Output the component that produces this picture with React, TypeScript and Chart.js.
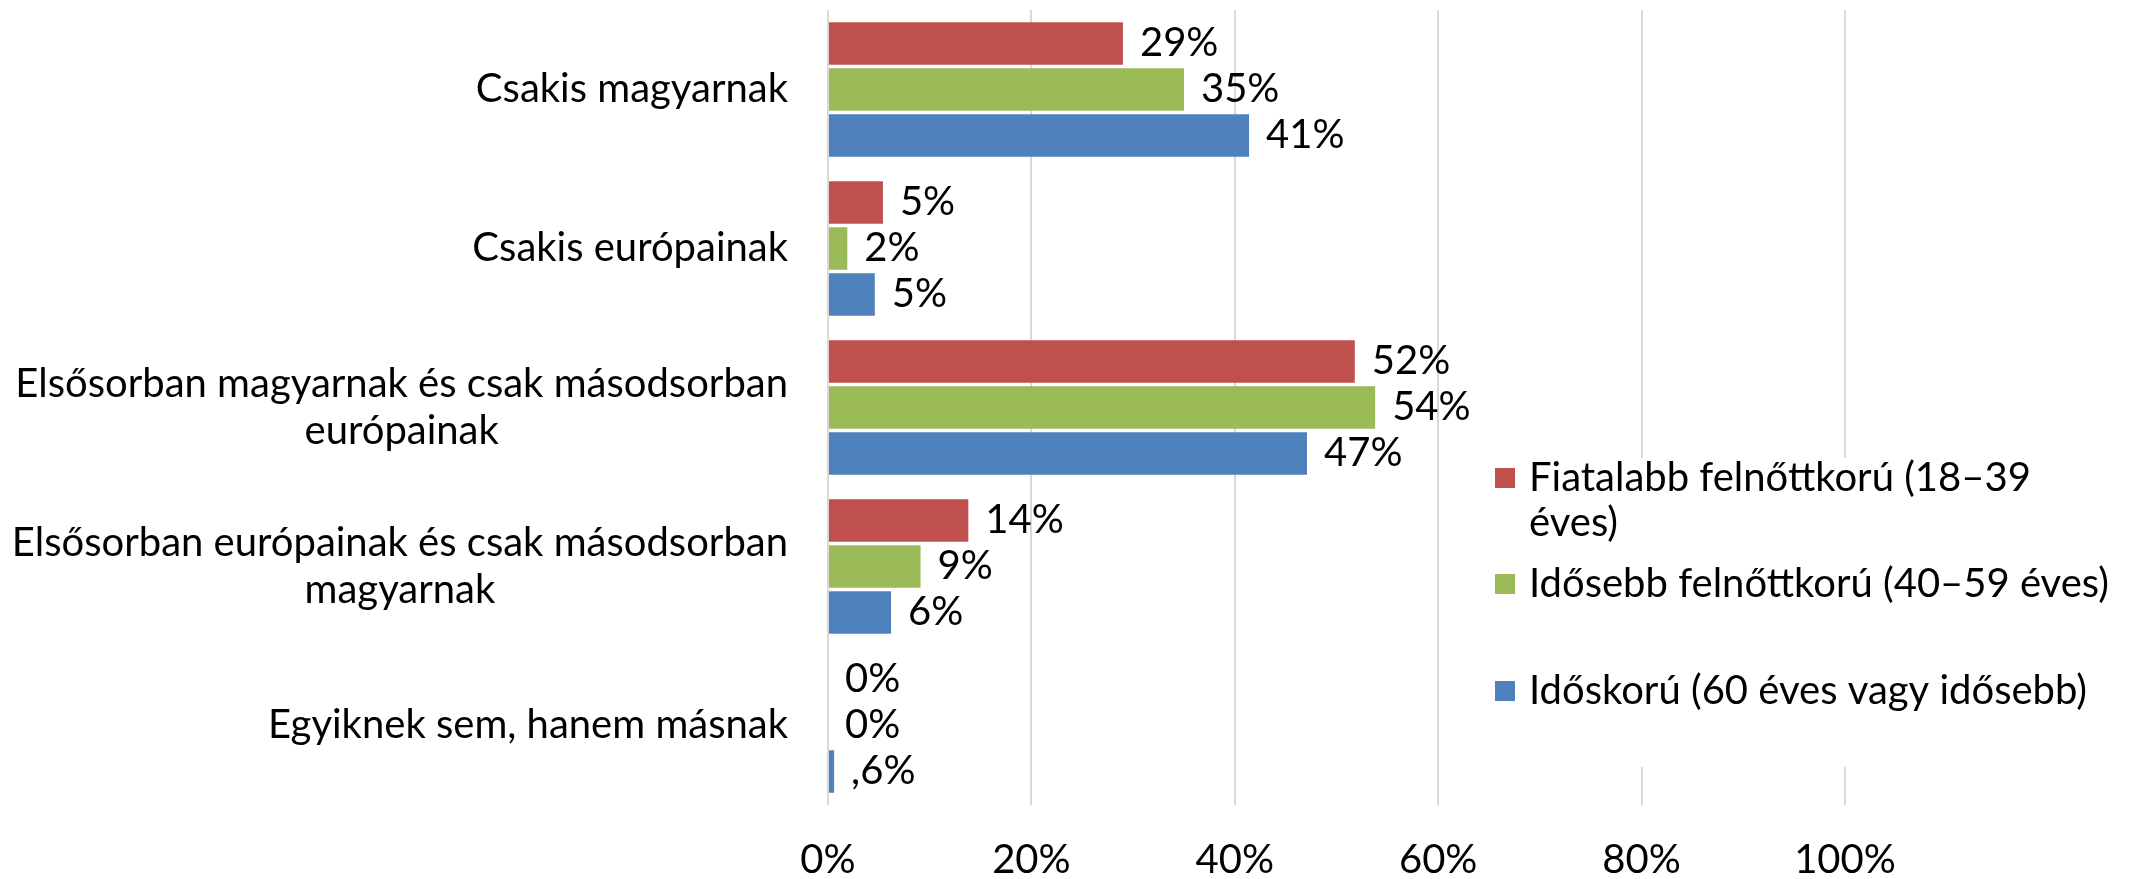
import React, { useEffect, useRef } from 'react';
import { Chart, registerables } from 'chart.js';

Chart.register(...registerables);

// ---- data ----
const categories: (string | string[])[] = [
  'Csakis magyarnak',
  'Csakis európainak',
  ['Elsősorban magyarnak és csak másodsorban', 'európainak'],
  ['Elsősorban európainak és csak másodsorban', 'magyarnak'],
  'Egyiknek sem, hanem másnak',
];
const seriesNames = [
  'Fiatalabb felnőttkorú (18–39 éves)',
  'Idősebb felnőttkorú (40–59 éves)',
  'Időskorú (60 éves vagy idősebb)',
];
const youngerAdults = [29, 5.4, 51.8, 13.8, 0];
const olderAdults = [35, 1.9, 53.8, 9.1, 0];
const elderly = [41.4, 4.6, 47.1, 6.2, 0.6];
const xTickValues = [0, 20, 40, 60, 80, 100];
const seriesColors = ['#C0504D', '#9BBB59', '#4F81BD'];

// ---- style ----
const FONT = 'Lato, "Open Sans", sans-serif';
const FS = 40;
const W = 2129;
const H = 879;

const fmt = (v: number) => (v > 0 && v < 1 ? ',' + Math.round(v * 10) + '%' : Math.round(v) + '%');

const yLabelPlugin = {
  id: 'yLabels',
  afterDraw(chart: any) {
    const { ctx } = chart;
    const ys = chart.scales.y;
    const right = 788;
    const lh = 47.5;
    ctx.save();
    ctx.font = `${FS}px ${FONT}`;
    ctx.fillStyle = '#000';
    ctx.textBaseline = 'middle';
    ctx.textAlign = 'center';
    (chart.data.labels as any[]).forEach((lab, i) => {
      const lines: string[] = Array.isArray(lab) ? lab : [lab];
      const w = Math.max(...lines.map((l) => ctx.measureText(l).width));
      const cx = right - w / 2;
      const cy = ys.getPixelForValue(i);
      lines.forEach((l, j) => ctx.fillText(l, cx, cy + (j - (lines.length - 1) / 2) * lh));
    });
    ctx.restore();
  },
};

const dataLabelPlugin = {
  id: 'dataLabels',
  afterDatasetsDraw(chart: any) {
    const { ctx } = chart;
    ctx.save();
    ctx.font = `${FS}px ${FONT}`;
    ctx.fillStyle = '#000';
    ctx.textBaseline = 'middle';
    ctx.textAlign = 'left';
    chart.data.datasets.forEach((ds: any, di: number) => {
      const meta = chart.getDatasetMeta(di);
      meta.data.forEach((bar: any, i: number) => {
        ctx.fillText(fmt(ds.data[i]), bar.x + 17, bar.y);
      });
    });
    ctx.restore();
  },
};

const legendPlugin = {
  id: 'customLegend',
  afterDraw(chart: any) {
    const { ctx } = chart;
    const boxX = 1480;
    const boxY = 458;
    const sqX = 1495;
    const sq = 20;
    const textX = 1529;
    const maxW = 590;
    const lh = 45;
    const itemY = [478, 584, 691];
    ctx.save();
    ctx.fillStyle = '#fff';
    ctx.fillRect(boxX, boxY, W - boxX, 767 - boxY);
    ctx.font = `${FS}px ${FONT}`;
    ctx.textBaseline = 'middle';
    ctx.textAlign = 'left';
    chart.data.datasets.forEach((ds: any, di: number) => {
      const y0 = itemY[di];
      ctx.fillStyle = ds.backgroundColor;
      ctx.fillRect(sqX, y0 - sq / 2, sq, sq);
      // wrap
      const words = String(ds.label).split(' ');
      const lines: string[] = [];
      let cur = '';
      words.forEach((w) => {
        const t = cur ? cur + ' ' + w : w;
        if (cur && ctx.measureText(t).width > maxW) {
          lines.push(cur);
          cur = w;
        } else cur = t;
      });
      if (cur) lines.push(cur);
      ctx.fillStyle = '#000';
      lines.forEach((l, j) => ctx.fillText(l, textX, y0 + j * lh));
    });
    ctx.restore();
  },
};

export default function App() {
  const ref = useRef<HTMLCanvasElement>(null);
  useEffect(() => {
    if (!ref.current) return;
    const series = [youngerAdults, olderAdults, elderly];
    const chart = new Chart(ref.current, {
      type: 'bar',
      data: {
        labels: categories as any,
        datasets: series.map((d, i) => ({
          label: seriesNames[i],
          data: d,
          backgroundColor: seriesColors[i],
          borderWidth: 0,
          categoryPercentage: 0.868,
          barPercentage: 0.924,
        })),
      },
      options: {
        indexAxis: 'y',
        responsive: false,
        animation: false,
        layout: { padding: { left: 0, right: 284, top: 10, bottom: 0 } },
        plugins: { legend: { display: false }, tooltip: { enabled: false } },
        scales: {
          x: {
            type: 'linear',
            min: 0,
            max: 100,
            afterBuildTicks: (s: any) => {
              s.ticks = xTickValues.map((v) => ({ value: v }));
            },
            afterFit: (s: any) => {
              s.height = 74;
            },
            ticks: {
              callback: (v: any) => v + '%',
              font: { family: FONT, size: FS },
              color: '#000',
              padding: 31,
              maxRotation: 0,
            },
            grid: { color: '#D9D9D9', lineWidth: 2, drawTicks: false },
            border: { display: false },
          },
          y: {
            type: 'category',
            afterFit: (s: any) => {
              s.width = 828;
            },
            ticks: { display: false },
            grid: { display: false },
            border: { display: false },
          },
        },
      },
      plugins: [dataLabelPlugin, yLabelPlugin, legendPlugin],
    });
    return () => chart.destroy();
  }, []);
  return (
    <div style={{ position: 'fixed', left: 0, top: 0, width: W, height: H, background: '#fff' }}>
      <canvas ref={ref} width={W} height={H} style={{ width: W, height: H }} />
    </div>
  );
}
